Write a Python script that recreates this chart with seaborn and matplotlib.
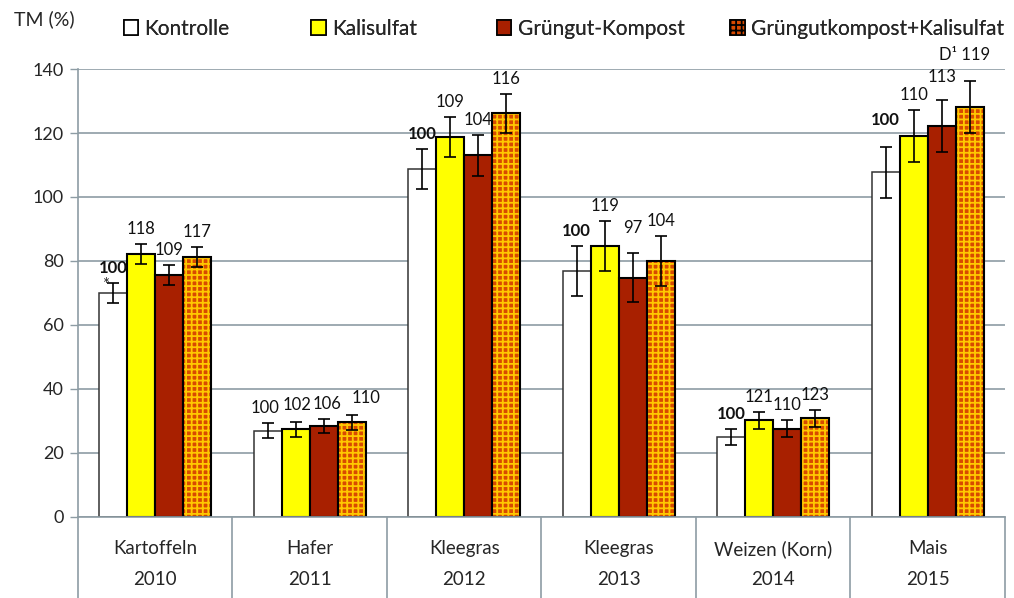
import pandas as pd
import numpy as np
import seaborn as sns
import matplotlib.pyplot as plt
from matplotlib.patches import Rectangle, Patch
from matplotlib.transforms import blended_transform_factory

# data
crops = ['Kartoffeln', 'Hafer', 'Kleegras', 'Kleegras', 'Weizen (Korn)', 'Mais']
years = ['2010', '2011', '2012', '2013', '2014', '2015']
treatments = ['Kontrolle', 'Kalisulfat', 'Grüngut-Kompost', 'Grüngutkompost+Kalisulfat']

kontrolle = [69.9, 27.0, 108.7, 76.9, 25.0, 107.7]
kalisulfat = [82.2, 27.4, 118.7, 84.8, 30.2, 119.1]
kompost = [75.6, 28.4, 113.0, 74.8, 27.6, 122.3]
kompost_kali = [81.3, 29.6, 126.1, 80.0, 30.8, 128.0]

err_kontrolle = [3.1, 2.3, 6.2, 7.7, 2.5, 8.0]
err_kalisulfat = [3.0, 2.3, 6.2, 7.8, 2.6, 8.1]
err_kompost = [3.1, 2.3, 6.3, 7.7, 2.6, 8.1]
err_kompost_kali = [3.1, 2.3, 6.2, 7.8, 2.6, 8.1]

rel_kontrolle = [100, 100, 100, 100, 100, 100]
rel_kalisulfat = [118, 102, 109, 119, 121, 110]
rel_kompost = [109, 106, 104, 97, 110, 113]
rel_kompost_kali = [117, 110, 116, 104, 123, 119]
bold_ref = [True, False, True, True, True, True]
label_prefix = {(3, 5): 'D¹ '}

# small label shifts in pixels (treatment, year) so crowded labels sit like the original
label_nudge = {(0, 1): (-3, 0), (1, 1): (1, 2), (2, 1): (3, 0), (3, 1): (14, 2),
               (2, 3): (0, 10), (0, 5): (0, 12), (2, 5): (0, 8), (3, 5): (0, 11)}

colors = ['#FFFFFF', '#FFFF00', '#A82000', '#D84A00']
hatch_col = '#FFC800'
grid_col = '#8D9CA4'

groups = [c + ' ' + y for c, y in zip(crops, years)]
vals = [kontrolle, kalisulfat, kompost, kompost_kali]
errs = [err_kontrolle, err_kalisulfat, err_kompost, err_kompost_kali]
rels = [rel_kontrolle, rel_kalisulfat, rel_kompost, rel_kompost_kali]

rows = []
for t, v, e in zip(treatments, vals, errs):
    for g, vi, ei in zip(groups, v, e):
        rows.append({'group': g, 'treatment': t, 'value': vi, 'err': ei})
df = pd.DataFrame(rows)

sns.set_style('white')
plt.rcParams['font.family'] = ['Lato', 'DejaVu Sans']
plt.rcParams['hatch.linewidth'] = 1.3

fig = plt.figure(figsize=(10.14, 5.98), dpi=100)
ax = fig.add_axes([0.0769, 0.1355, 0.914, 0.7491])

sns.barplot(data=df, x='group', y='value', hue='treatment', palette=colors,
            saturation=1, width=0.725, gap=0, errorbar=None, legend=False,
            edgecolor='black', linewidth=1.5, ax=ax)
bars = list(ax.containers)

# hatched orange bars: yellow checker on orange, black outline on top
for p in bars[3]:
    p.set_hatch('+++')
    p.set_edgecolor(hatch_col)
    p.set_linewidth(0)
    ax.add_patch(Rectangle(p.get_xy(), p.get_width(), p.get_height(),
                           fill=False, edgecolor='black', lw=1.5, zorder=p.get_zorder() + 0.1))
for p in bars[0]:
    p.set_edgecolor('#333333')
    p.set_linewidth(1.1)

for k, cont in enumerate(bars):
    xs = [p.get_x() + p.get_width() / 2 for p in cont]
    ax.errorbar(xs, vals[k], yerr=errs[k], fmt='none', ecolor='black',
                elinewidth=1.2, capsize=4.5, capthick=1.2, zorder=5)
    for i, x in enumerate(xs):
        top = vals[k][i] + errs[k][i]
        weight = 'bold' if (k == 0 and bold_ref[i]) else 'normal'
        dx, dy = label_nudge.get((k, i), (0, 0))
        pre = label_prefix.get((k, i), '')
        if pre:
            ax.annotate(pre + str(rels[k][i]), (x, top), xytext=(21 + dx, 7 + dy),
                        textcoords='offset pixels', ha='right', va='bottom',
                        fontsize=12, color='#111111')
        else:
            ax.annotate(str(rels[k][i]), (x, top), xytext=(dx, 7 + dy),
                        textcoords='offset pixels', ha='center', va='bottom',
                        fontsize=12, fontweight=weight, color='#111111')

# significance star on the 2010 control bar
x0 = bars[0][0].get_x()
ax.annotate('*', (x0, kontrolle[0]), xytext=(3, 0), textcoords='offset pixels',
            ha='left', va='bottom', fontsize=12)

ax.set_ylim(0, 140)
ax.set_xlim(-0.5, len(groups) - 0.5)
ax.set_yticks(range(0, 141, 20))
ax.tick_params(axis='y', labelsize=13, length=6, width=1, color=grid_col, pad=4, direction='out', left=True)
ax.yaxis.grid(True, color=grid_col, lw=1.2)
ax.set_axisbelow(True)
ax.set_xlabel('')
ax.set_ylabel('')
ax.set_xticks([])
for s in ['top', 'right']:
    ax.spines[s].set_visible(False)
for s in ['left', 'bottom']:
    ax.spines[s].set_color(grid_col)
    ax.spines[s].set_linewidth(1.2)

# two-level category axis
trans = blended_transform_factory(ax.transData, ax.transAxes)
for i in range(len(groups) + 1):
    ax.plot([i - 0.5, i - 0.5], [0, -0.2], transform=trans, color=grid_col,
            lw=1.2, clip_on=False)
for i, (c, y) in enumerate(zip(crops, years)):
    ax.annotate(c, (i, 0), xycoords=trans, xytext=(0, -32), textcoords='offset pixels',
                ha='center', va='center', fontsize=13.5)
    ax.annotate(y, (i, 0), xycoords=trans, xytext=(0, -63), textcoords='offset pixels',
                ha='center', va='center', fontsize=13.5)

fig.text(0.014, 0.968, 'TM (%)', ha='left', va='center', fontsize=14)

# legend entries, spaced like the original
legend_x = [0.122, 0.307, 0.49, 0.720]
for k, t in enumerate(treatments):
    h = Patch(facecolor=colors[k], edgecolor='black', lw=1.2,
              hatch='+++' if k == 3 else None)
    leg = fig.legend(handles=[h], labels=[t], loc='center left',
                     bbox_to_anchor=(legend_x[k], 0.952), frameon=False,
                     fontsize=15, handlelength=0.7, handleheight=0.7,
                     handletextpad=0.3, borderpad=0, borderaxespad=0)
    fig.add_artist(leg)

fig.savefig('out.png', dpi=100)
